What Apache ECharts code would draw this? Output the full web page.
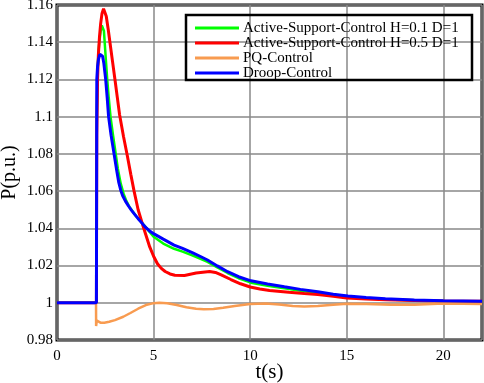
<!DOCTYPE html>
<html>
<head>
<meta charset="utf-8">
<script src="https://cdn.jsdelivr.net/npm/echarts@6/dist/echarts.min.js"></script>
<style>
html,body{margin:0;padding:0;background:#fff;}
#c{width:484px;height:383px;}
</style>
</head>
<body>
<div id="c"></div>
<script>
// Legend / series names
const seriesNames = ['Active-Support-Control H=0.1 D=1', 'Active-Support-Control H=0.5 D=1', 'PQ-Control', 'Droop-Control'];

// Active-Support-Control H=0.1 D=1 (green)
const tGreen = [0, 2.04, 2.06, 2.1, 2.15, 2.2, 2.26, 2.32, 2.38, 2.43, 2.5, 2.6, 2.68, 2.77, 2.9, 3.04, 3.15, 3.3, 3.45, 3.6, 3.75, 3.92, 4.1, 4.3, 4.6, 5.0, 5.5, 6.06, 6.5, 7.0, 7.4, 7.79, 8.3, 8.83, 9.4, 10.04, 10.9, 11.77, 12.6, 13.5, 14.3, 15.06, 16.0, 17.0, 18.5, 20.0, 22.0];
const pGreen = [1.0, 1.0, 1.10, 1.125, 1.135, 1.141, 1.146, 1.149, 1.150, 1.146, 1.135, 1.12, 1.11, 1.10, 1.09, 1.08, 1.072, 1.064, 1.0585, 1.0545, 1.0515, 1.049, 1.0465, 1.0442, 1.0405, 1.0355, 1.0318, 1.029, 1.0275, 1.0255, 1.0238, 1.022, 1.019, 1.016, 1.0132, 1.0108, 1.0092, 1.0078, 1.0064, 1.0052, 1.004, 1.003, 1.0024, 1.0018, 1.0013, 1.001, 1.0008];

// Active-Support-Control H=0.5 D=1 (red)
const tRed = [0, 2.04, 2.06, 2.1, 2.14, 2.2, 2.26, 2.33, 2.41, 2.48, 2.55, 2.65, 2.74, 2.87, 3.0, 3.12, 3.24, 3.44, 3.64, 3.82, 3.99, 4.2, 4.49, 4.8, 5.0, 5.2, 5.4, 5.6, 5.85, 6.1, 6.6, 7.2, 7.9, 8.2, 8.5, 9.0, 9.5, 10.0, 10.5, 11.0, 12.0, 12.8, 13.5, 14.3, 15.0, 16.0, 17.0, 18.5, 20.0, 22.0];
const pRed = [1.0, 1.0, 1.09, 1.12, 1.133, 1.143, 1.15, 1.1555, 1.158, 1.157, 1.154, 1.147, 1.14, 1.13, 1.12, 1.1105, 1.101, 1.0895, 1.079, 1.069, 1.06, 1.05, 1.04, 1.03, 1.025, 1.021, 1.0185, 1.0168, 1.0155, 1.0148, 1.0147, 1.016, 1.0168, 1.0163, 1.015, 1.0125, 1.0102, 1.0085, 1.0074, 1.0066, 1.0057, 1.005, 1.0045, 1.0035, 1.0026, 1.002, 1.0016, 1.0012, 1.001, 1.0008];

// PQ-Control (orange)
const tPQ = [0, 2.02, 2.025, 2.06, 2.12, 2.25, 2.45, 2.7, 3.0, 3.43, 3.8, 4.2, 4.6, 5.0, 5.3, 5.7, 6.2, 6.7, 7.2, 7.6, 8.1, 8.6, 9.2, 10.0, 10.8, 11.5, 12.2, 12.8, 13.5, 14.3, 15.0, 16.0, 17.3, 18.5, 20.0, 22.0];
const pPQ = [1.0, 1.0, 0.9875, 0.9905, 0.9898, 0.9893, 0.9893, 0.9898, 0.9907, 0.9925, 0.9945, 0.9968, 0.9988, 0.9998, 1.0, 0.9998, 0.9988, 0.9976, 0.9968, 0.9965, 0.9967, 0.9973, 0.9983, 0.9994, 0.9996, 0.9991, 0.9983, 0.998, 0.9983, 0.999, 0.9995, 0.9994, 0.9989, 0.999, 0.9996, 0.9994];

// Droop-Control (blue)
const tDroop = [0, 2.04, 2.06, 2.1, 2.15, 2.22, 2.3, 2.36, 2.42, 2.52, 2.6, 2.67, 2.8, 2.9, 3.0, 3.1, 3.2, 3.3, 3.4, 3.55, 3.7, 3.85, 4.0, 4.2, 4.4, 4.59, 4.8, 5.02, 5.5, 6.06, 6.5, 7.0, 7.4, 7.79, 8.3, 8.83, 9.4, 10.04, 10.9, 11.77, 12.6, 13.5, 14.3, 15.06, 16.0, 17.0, 18.5, 20.0, 22.0];
const pDroop = [1.0, 1.0, 1.12, 1.127, 1.131, 1.1335, 1.134, 1.1325, 1.129, 1.12, 1.11, 1.10, 1.09, 1.0835, 1.077, 1.0705, 1.0645, 1.0605, 1.0575, 1.0545, 1.052, 1.0498, 1.0478, 1.0452, 1.0428, 1.0405, 1.0385, 1.037, 1.0342, 1.031, 1.0292, 1.027, 1.025, 1.023, 1.0198, 1.0167, 1.014, 1.0118, 1.0101, 1.0086, 1.0072, 1.0059, 1.0046, 1.0036, 1.0028, 1.0021, 1.0015, 1.0011, 1.0008];

// Axis ticks
const xTicks = { min: 0, max: 22, interval: 5 };
const yTicks = { min: 0.98, max: 1.16, interval: 0.02 };

const colors = ['#00ff00', '#ff0000', '#f89b50', '#0000ff'];
const widths = [2.5, 3, 2.5, 3];

function pairs(t, p) { return t.map((v, i) => [v, p[i]]); }
const dataSets = [pairs(tGreen, pGreen), pairs(tRed, pRed), pairs(tPQ, pPQ), pairs(tDroop, pDroop)];

const font = '"Liberation Serif", "DejaVu Serif", serif';
const chart = echarts.init(document.getElementById('c'), null, { renderer: 'canvas' });
chart.setOption({
  animation: false,
  backgroundColor: '#fff',
  textStyle: { fontFamily: font },
  grid: { left: 57, right: 2, top: 5, bottom: 43, show: true, borderColor: '#000', borderWidth: 3, containLabel: false, outerBoundsMode: 'none' },
  legend: {
    show: true,
    orient: 'vertical',
    left: 195, top: 20.5,
    padding: 0,
    itemGap: 0,
    itemWidth: 44, itemHeight: 3,
    icon: 'rect',
    data: seriesNames,
    textStyle: { fontFamily: font, fontSize: 15, color: '#000', lineHeight: 15, padding: [0,0,0,-1] }
  },
  graphic: [{
    type: 'rect', shape: { x: 186, y: 15, width: 286, height: 65 },
    style: { fill: 'none', stroke: '#000', lineWidth: 2.5 }, z: 100
  }],
  xAxis: {
    type: 'value', min: xTicks.min, max: xTicks.max, interval: xTicks.interval,
    name: 't(s)', nameLocation: 'middle', nameGap: 22, nameMoveOverlap: false,
    nameTextStyle: { fontFamily: font, fontSize: 21, color: '#000' },
    axisLine: { show: false }, axisTick: { show: false },
    axisLabel: { fontFamily: font, fontSize: 15, color: '#000', margin: 9, showMaxLabel: false },
    splitLine: { show: true, lineStyle: { color: '#888', width: 1.5 } }
  },
  yAxis: {
    type: 'value', min: yTicks.min, max: yTicks.max, interval: yTicks.interval,
    name: 'P(p.u.)', nameLocation: 'middle', nameGap: 37, nameMoveOverlap: false,
    nameTextStyle: { fontFamily: font, fontSize: 20, color: '#000' },
    axisLine: { show: false }, axisTick: { show: false },
    axisLabel: { fontFamily: font, fontSize: 15, color: '#000', margin: 4 },
    splitLine: { show: true, lineStyle: { color: '#888', width: 1.5 } }
  },
  series: seriesNames.map((n, i) => ({
    name: n, type: 'line', data: dataSets[i], symbol: 'none', showSymbol: false,
    color: colors[i], lineStyle: { color: colors[i], width: widths[i] },
    z: 3 + i
  }))
});
</script>
</body>
</html>
